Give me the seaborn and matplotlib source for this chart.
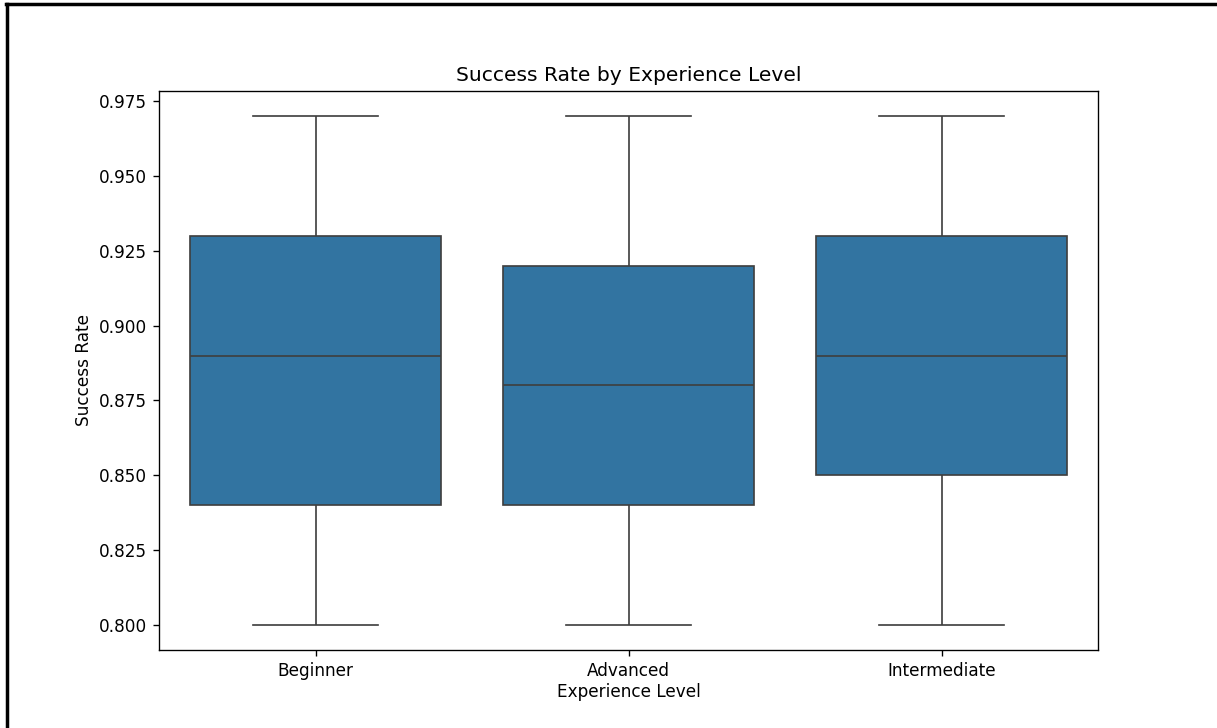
import matplotlib
matplotlib.use("Agg")
import matplotlib.pyplot as plt
import seaborn as sns
import pandas as pd
from matplotlib.lines import Line2D

levels = ["Beginner", "Advanced", "Intermediate"]
beginner = [0.80, 0.84, 0.89, 0.93, 0.97]
advanced = [0.80, 0.84, 0.88, 0.92, 0.97]
intermediate = [0.80, 0.85, 0.89, 0.93, 0.97]

df = pd.DataFrame({
    "Experience Level": [levels[0]] * len(beginner) + [levels[1]] * len(advanced) + [levels[2]] * len(intermediate),
    "Success Rate": beginner + advanced + intermediate,
})

s = 1.217
plt.rcParams.update({
    "font.size": 10 * s,
    "axes.linewidth": 0.8 * s,
    "xtick.major.width": 0.8 * s,
    "ytick.major.width": 0.8 * s,
    "xtick.major.size": 3.5 * s,
    "ytick.major.size": 3.5 * s,
    "xtick.major.pad": 3.5 * s,
    "ytick.major.pad": 3.5 * s,
    "lines.linewidth": 1.5 * s,
})

fig = plt.figure(figsize=(12.17, 7.28), dpi=100)
ax = fig.add_axes([159 / 1217, 1 - 650 / 728, (1098 - 159) / 1217, (650 - 91) / 728])
sns.boxplot(data=df, x="Experience Level", y="Success Rate", order=levels,
            color="#1f77b4", saturation=0.75, ax=ax, linewidth=1.0 * s)
ax.set_title("Success Rate by Experience Level", fontsize=12 * s, pad=6 * s)
ax.set_xlabel("Experience Level", fontsize=10 * s, labelpad=2)
ax.set_ylabel("Success Rate", fontsize=10 * s)
ax.yaxis.set_major_formatter(matplotlib.ticker.FormatStrFormatter("%.3f"))

fig.add_artist(Line2D([6 / 1217, 1], [1 - 3.5 / 728, 1 - 3.5 / 728], color="black", lw=2.5, transform=fig.transFigure))
fig.add_artist(Line2D([6.5 / 1217, 6.5 / 1217], [0, 1 - 3.5 / 728], color="black", lw=2.5, transform=fig.transFigure))

fig.savefig("out.png", dpi=100)
